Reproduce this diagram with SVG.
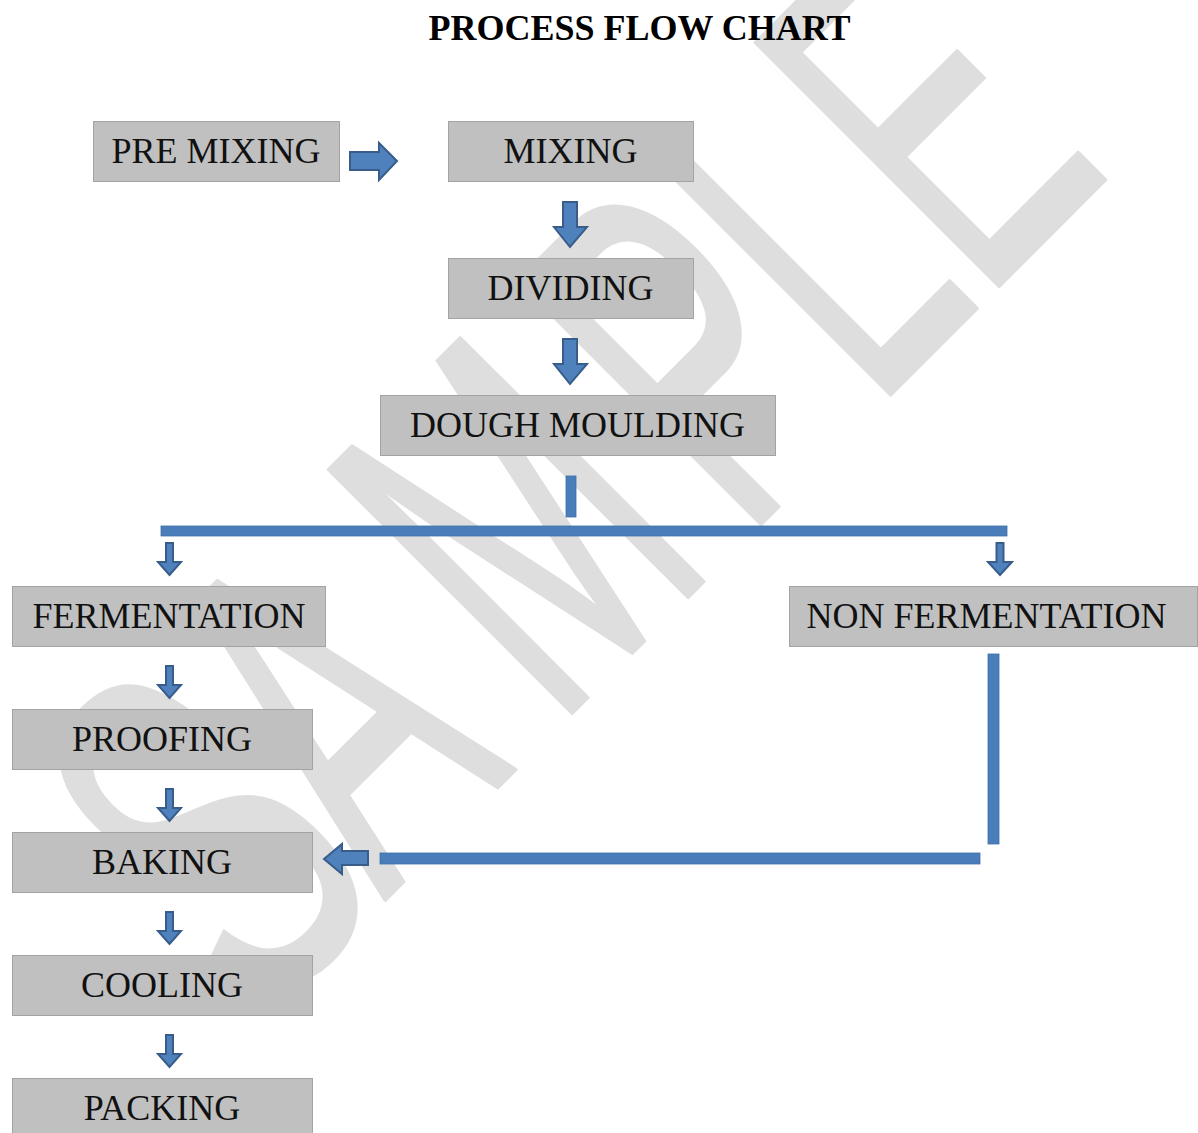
<svg xmlns="http://www.w3.org/2000/svg" width="1198" height="1133" viewBox="0 0 1198 1133">
<style>
.box{fill:#c0c0c0;stroke:#a3a3a3;stroke-width:1}
.lbl{font-family:"Liberation Serif","Times New Roman",serif;font-size:36px;fill:#111;text-anchor:middle}
.title{font-family:"Liberation Serif","Times New Roman",serif;font-size:36px;font-weight:bold;fill:#000;text-anchor:middle}
.arrow{fill:#4f81bd;stroke:#385d8a;stroke-width:2;stroke-linejoin:miter}
.bar{fill:#4a7ebb;stroke:#3f6fa8;stroke-width:0.8}
.wm{font-family:"Liberation Sans",Arial,sans-serif;font-size:500px;fill:#dedede;stroke:#dedede;stroke-width:4;stroke-linejoin:round}
</style>
<rect width="1198" height="1133" fill="#ffffff"/>
<g id="watermark">
<text class="wm" transform="translate(642.5,642.5) rotate(-45) scale(0.56,1)" x="-960 -652 -220 257 584 858" y="0">SAMPLE</text>
</g>
<text class="title" x="639.5" y="40">PROCESS FLOW CHART</text>
<g id="connectors">
<path class="arrow" d="M350,152 H379 V143 L397,161 L379,180 V170 H350 Z"/>
<path class="arrow" d="M563,202 H577 V227 H587 L570,247 L554,227 H563 Z"/>
<path class="arrow" d="M563,339 H577 V364 H587 L570,384 L554,364 H563 Z"/>
<rect class="bar" x="566" y="476" width="10" height="41"/>
<rect class="bar" x="161" y="526" width="846" height="10"/>
<path class="arrow" d="M166,543 H173 V562 H181 L169.5,575 L158,562 H166 Z"/>
<path class="arrow" d="M996.5,543 H1003.5 V562 H1012 L1000,575 L988,562 H996.5 Z"/>
<path class="arrow" d="M166,666 H173 V685 H181 L169.5,698 L158,685 H166 Z"/>
<path class="arrow" d="M166,789 H173 V808 H181 L169.5,821 L158,808 H166 Z"/>
<path class="arrow" d="M166,912 H173 V931 H181 L169.5,944 L158,931 H166 Z"/>
<path class="arrow" d="M166,1035 H173 V1054 H181 L169.5,1067 L158,1054 H166 Z"/>
<rect class="bar" x="988" y="654" width="11" height="190"/>
<rect class="bar" x="380" y="853" width="600" height="11"/>
<path class="arrow" d="M368,851 V865 H342 V874 L324,859 L342,844 V851 Z"/>
</g>
<g id="node-premixing"><rect class="box" x="93.5" y="121.5" width="246" height="60"/><text class="lbl" x="216" y="163">PRE MIXING</text></g>
<g id="node-mixing"><rect class="box" x="448.5" y="121.5" width="245" height="60"/><text class="lbl" x="570.5" y="163">MIXING</text></g>
<g id="node-dividing"><rect class="box" x="448.5" y="258.5" width="245" height="60"/><text class="lbl" x="570.5" y="300">DIVIDING</text></g>
<g id="node-doughmoulding"><rect class="box" x="380.5" y="395.5" width="395" height="60"/><text class="lbl" x="577.5" y="437">DOUGH MOULDING</text></g>
<g id="node-fermentation"><rect class="box" x="12.5" y="586.5" width="313" height="60"/><text class="lbl" x="169" y="628">FERMENTATION</text></g>
<g id="node-nonfermentation"><rect class="box" x="789.5" y="586.5" width="408" height="60"/><text class="lbl" x="986.5" y="628">NON FERMENTATION</text></g>
<g id="node-proofing"><rect class="box" x="12.5" y="709.5" width="300" height="60"/><text class="lbl" x="162" y="751">PROOFING</text></g>
<g id="node-baking"><rect class="box" x="12.5" y="832.5" width="300" height="60"/><text class="lbl" x="162" y="874">BAKING</text></g>
<g id="node-cooling"><rect class="box" x="12.5" y="955.5" width="300" height="60"/><text class="lbl" x="162" y="997">COOLING</text></g>
<g id="node-packing"><rect class="box" x="12.5" y="1078.5" width="300" height="60"/><text class="lbl" x="162" y="1120">PACKING</text></g>
</svg>
